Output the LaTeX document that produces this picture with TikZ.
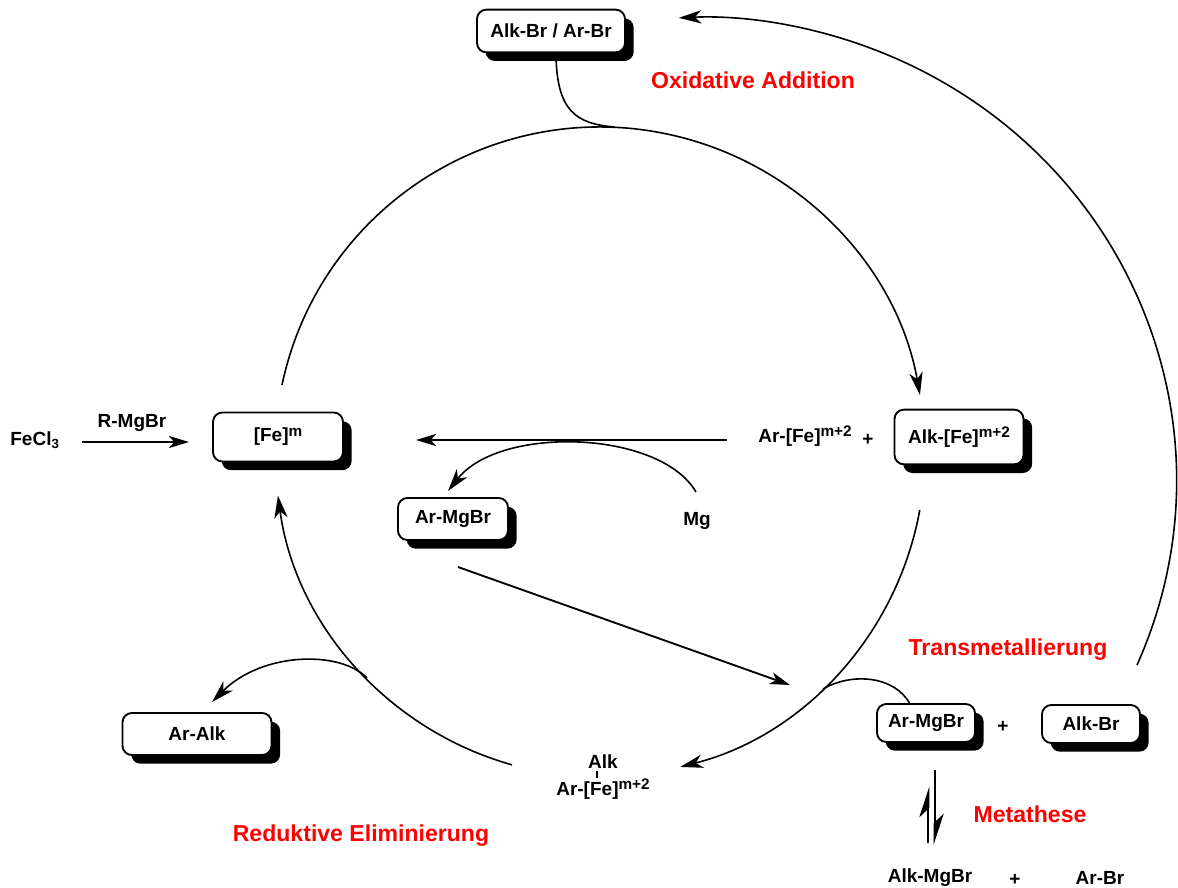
\documentclass[tikz,border=0pt]{standalone}
\usepackage{fontspec}
\setmainfont{Liberation Sans}
\usetikzlibrary{arrows.meta,shadows,calc}
\newcommand{\supx}[1]{\raisebox{0.55ex}{\fontsize{11.5}{12}\selectfont #1}}
\begin{document}
\begin{tikzpicture}[x=0.75pt,y=-0.75pt,
  every node/.style={font=\fontsize{14.25}{16}\selectfont\bfseries, inner sep=0pt},
  box/.style={draw, line width=1.4pt, rounded corners=7pt, fill=white,
    drop shadow={shadow xshift=6.5pt, shadow yshift=-6.5pt, fill=black, opacity=1}},
  redlbl/.style={text=red, font=\fontsize{17.3}{20}\selectfont\bfseries},
  ln/.style={line width=1.2pt},
  tip/.style={-{Stealth[length=17pt,width=10pt,inset=5pt]}},
  smalltip/.style={-{Stealth[length=15pt,width=9pt,inset=4pt]}},
  harp/.style={line width=2.2pt,-{Stealth[left,length=20pt,width=13pt,inset=6pt]}},
]
\useasboundingbox (0,0) rectangle (1178,888);

% boxes
\node[box, minimum width=111pt, minimum height=32pt] (src) at (551,31) {Alk-Br / Ar-Br};
\node[box, minimum width=97.5pt, minimum height=36.75pt] (fe) at (278,437) {[Fe]\supx{m}};
\node[box, minimum width=96.75pt, minimum height=41pt] (alkfe) at (959,437) {Alk-[Fe]\supx{m+2}};
\node[box, minimum width=82.5pt, minimum height=31.5pt] (armg) at (453,519) {Ar-MgBr};
\node[box, minimum width=111.75pt, minimum height=31.5pt] (aralk) at (197,734) {Ar-Alk};
\node[box, minimum width=73.5pt, minimum height=28.5pt] (armg2) at (926,723) {Ar-MgBr};
\node[box, minimum width=73.5pt, minimum height=28.5pt] (alkbr) at (1091,724) {Alk-Br};

% plain texts
\node (fecl) at (35,440) {FeCl\textsubscript{3}};
\node (rmg) at (132,423) {R-MgBr};
\node (arfe) at (805,436) {Ar-[Fe]\supx{m+2}};
\node (plusa) at (868,440) {+};
\node (mg) at (697,521) {Mg};
\node (alk) at (603,762) {Alk};
\node (arfe2) at (603,789) {Ar-[Fe]\supx{m+2}};
\node (plusb) at (1003,727) {+};
\node (alkmg) at (930,878) {Alk-MgBr};
\node (plusc) at (1015,880) {+};
\node (arbr) at (1100,878) {Ar-Br};

% red labels
\node[redlbl] (ox) at (753,80) {Oxidative Addition};
\node[redlbl] (tm) at (1008,650) {Transmetallierung};
\node[redlbl] (mt) at (1030,814) {Metathese};
\node[redlbl] (re) at (361,836) {Reduktive Eliminierung};

% catalytic circle
\coordinate (C) at (600,452);
\draw[ln,tip] (C) ++(168.1:243.75pt) arc[start angle=168.1, end angle=10.1, radius=243.75pt];
\draw[ln,tip] (C) ++(-10.3:243.75pt) arc[start angle=-10.3, end angle=-75.7, radius=243.75pt];
\draw[ln,tip] (C) ++(254.3:243.75pt) arc[start angle=254.3, end angle=187.7, radius=243.75pt];

% side connectors
\coordinate (topj) at (615,127);
\draw[ln] (src.south) ++(5,2) .. controls (557,110) and (575,124) .. (topj);

\coordinate (tmj) at (823,689);
\coordinate (tms) at (910,704);
\draw[ln] (tms) .. controls (895,676) and (852,672) .. (tmj);

\coordinate (rej) at (367,678);
\coordinate (ree) at (212,702);
\draw[ln,tip] (rej) .. controls (340,650) and (262,652) .. (ree);

\coordinate (mgs) at (696,492);
\coordinate (mge) at (448,491);
\draw[ln,tip] (mgs) .. controls (660,430) and (500,425) .. (mge);

\coordinate (hs) at (727,440);
\coordinate (he) at (416,440);
\draw[line width=2.2pt,smalltip] (hs) -- (he);

\coordinate (ds) at (458,567);
\coordinate (de) at (790,685);
\draw[line width=1.4pt,smalltip] (ds) -- (de);

\coordinate (fs) at (82,442);
\coordinate (fe2) at (189,442);
\draw[line width=2.2pt,smalltip] (fs) -- (fe2);

% bar in Alk / Ar-[Fe]
\draw[line width=1pt] (597,771) -- (597,778);

% big return arc
\coordinate (bs) at (1137,665);
\draw[ln,tip] (bs) arc[start angle=-23.5, end angle=92.5, x radius=357.75pt, y radius=347.25pt];

% equilibrium harpoons
\coordinate (h1s) at (928,843);
\coordinate (h1e) at (928,786);
\coordinate (h2s) at (935,770);
\coordinate (h2e) at (935,845);
\draw[harp] (h1s) -- (h1e);
\draw[harp] (h2s) -- (h2e);
\end{tikzpicture}
\end{document}
